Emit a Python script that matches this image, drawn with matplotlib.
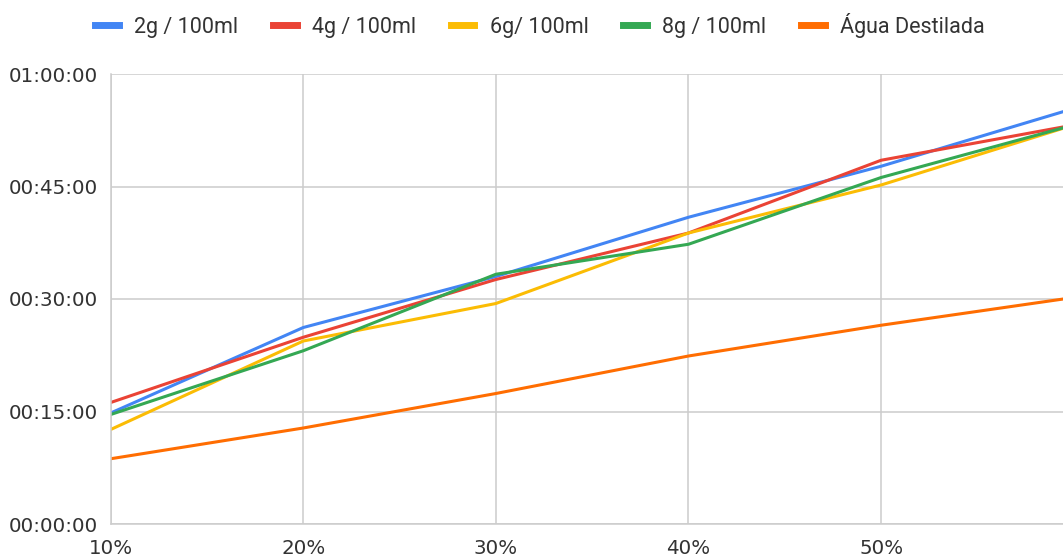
import matplotlib
matplotlib.use('Agg')
import matplotlib.pyplot as plt
from matplotlib.ticker import FuncFormatter, FixedLocator, MultipleLocator

# concentração (%) e tempo (minutos) de cada solução
concentracao = [10, 20, 30, 40, 50, 60]
sol_2g = [14.8, 26.2, 33.0, 40.9, 47.7, 55.4]
sol_4g = [16.2, 24.9, 32.6, 38.8, 48.5, 53.2]
sol_6g = [12.6, 24.4, 29.4, 38.8, 45.2, 53.2]
sol_8g = [14.6, 23.1, 33.3, 37.3, 46.2, 53.2]
agua = [8.7, 12.8, 17.4, 22.4, 26.5, 30.2]

series = [
    ('2g / 100ml', sol_2g, '#4285F4'),
    ('4g / 100ml', sol_4g, '#EA4335'),
    ('6g/ 100ml', sol_6g, '#FBBC04'),
    ('8g / 100ml', sol_8g, '#34A853'),
    ('Água Destilada', agua, '#FF6D01'),
]

fig = plt.figure(figsize=(10.63, 5.57), dpi=100)
ax = fig.add_axes([110.7 / 1063, 33 / 557, 963 / 1063, 450 / 557])

for nome, valores, cor in series:
    ax.plot(concentracao, valores, color=cor, lw=2.2, label=nome,
            solid_joinstyle='round')

ax.set_xlim(10, 60)
ax.set_ylim(0, 60)
# o rótulo de 60% fica fora da figura
ax.xaxis.set_major_locator(FixedLocator([10, 20, 30, 40, 50]))
ax.yaxis.set_major_locator(MultipleLocator(15))


def fmt_tempo(v, pos):
    m = int(round(v))
    return '{:02d}:{:02d}:00'.format(m // 60, m % 60)


ax.yaxis.set_major_formatter(FuncFormatter(fmt_tempo))
ax.xaxis.set_major_formatter(FuncFormatter(lambda v, p: '{:d}%'.format(int(v))))

ax.grid(True, color='#cccccc', lw=1.1)
ax.set_axisbelow(True)
for s in ['top', 'right']:
    ax.spines[s].set_visible(False)
for s in ['left', 'bottom']:
    ax.spines[s].set_color('#cccccc')
    ax.spines[s].set_linewidth(1.1)

ax.tick_params(axis='both', length=0, labelsize=14.3, labelcolor='#333333')
ax.tick_params(axis='y', pad=9)
ax.tick_params(axis='x', pad=11)

leg = fig.legend(loc='center', bbox_to_anchor=(540 / 1063, 1 - 25.5 / 557),
                 ncol=5, frameon=False, handlelength=1.1, handletextpad=0.72,
                 columnspacing=1.6, prop={'family': 'Roboto', 'size': 15.5})
for linha in leg.get_lines():
    linha.set_linewidth(5)
for t in leg.get_texts():
    t.set_color('#333333')

fig.savefig('out.png', dpi=100)
